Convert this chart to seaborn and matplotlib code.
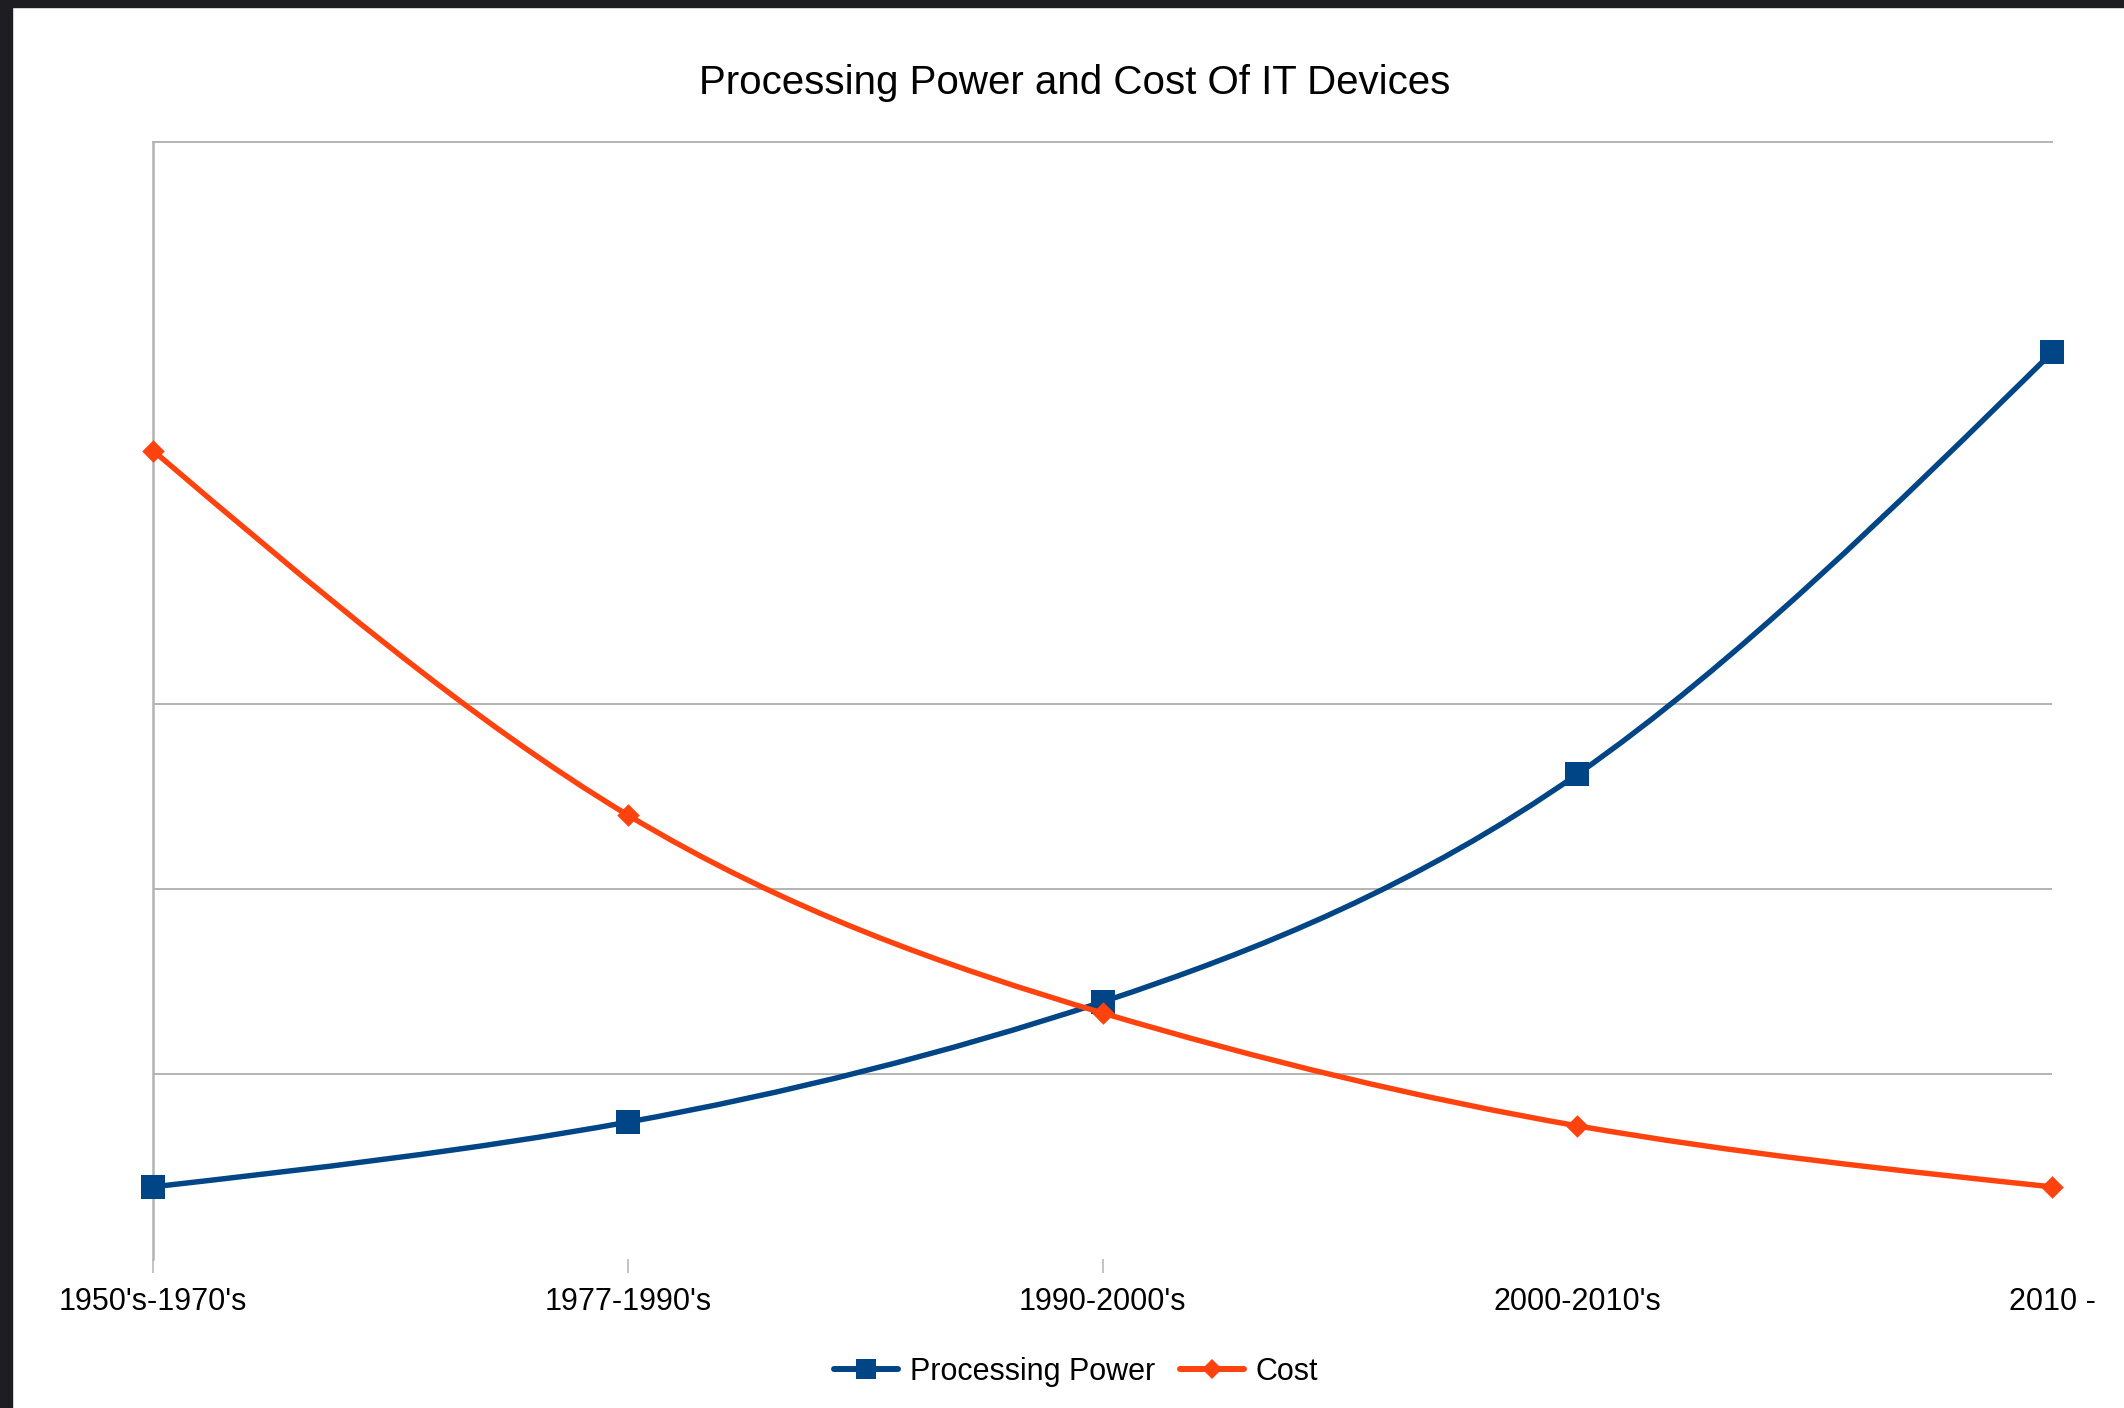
import numpy as np
import pandas as pd
import matplotlib
matplotlib.use('Agg')
import matplotlib.pyplot as plt
import seaborn as sns
from matplotlib.path import Path
from matplotlib.patches import PathPatch, Rectangle
from matplotlib.lines import Line2D

# ---------------- data ----------------
categories = ["1950's-1970's", "1977-1990's", "1990-2000's", "2000-2010's", "2010 -"]
processing_power = [0.39, 0.74, 1.39, 2.62, 4.90]
cost = [4.37, 2.40, 1.33, 0.72, 0.39]
series_names = ["Processing Power", "Cost"]
gridline_values = [1, 2, 3]
title = "Processing Power and Cost Of IT Devices"

BLUE = "#004586"
RED = "#ff420e"
GRID = "#b3b3b3"
TEXT = "#000000"

sns.set_theme(style="white")
plt.rcParams['font.family'] = ['Liberation Sans', 'DejaVu Sans']

W, H = 2124, 1408
fig = plt.figure(figsize=(W / 100, H / 100), dpi=100, facecolor='white')

# dark screenshot border (top and left)
fig.add_artist(Rectangle((0, 1 - 7 / H), 1, 7 / H, transform=fig.transFigure,
                         color='#1d1d22', zorder=0))
fig.add_artist(Rectangle((0, 0), 12 / W, 1, transform=fig.transFigure,
                         color='#1d1d22', zorder=0))

left, right, top, bottom = 153, 2052, 142, 1259
ax = fig.add_axes([left / W, 1 - bottom / H, (right - left) / W, (bottom - top) / H])
ax.set_facecolor('white')

x_pos = np.arange(len(categories))


def spline_path(xs, ys):
    """Natural cubic spline through the points, expressed as Bezier segments."""
    n = len(xs)
    y = np.asarray(ys, float)
    A = np.zeros((n, n))
    b = np.zeros(n)
    A[0, 0] = A[-1, -1] = 1
    for i in range(1, n - 1):
        A[i, i - 1] = 1
        A[i, i] = 4
        A[i, i + 1] = 1
        b[i] = 6 * (y[i + 1] - 2 * y[i] + y[i - 1])
    M = np.linalg.solve(A, b)
    m = np.empty(n)
    for i in range(n - 1):
        m[i] = (y[i + 1] - y[i]) - (2 * M[i] + M[i + 1]) / 6
    m[-1] = (y[-1] - y[-2]) + (M[-2] + 2 * M[-1]) / 6
    verts = [(xs[0], y[0])]
    codes = [Path.MOVETO]
    for i in range(n - 1):
        verts += [(xs[i] + 1 / 3, y[i] + m[i] / 3),
                  (xs[i + 1] - 1 / 3, y[i + 1] - m[i + 1] / 3),
                  (xs[i + 1], y[i + 1])]
        codes += [Path.CURVE4] * 3
    return Path(verts, codes)


LW = 3.9
# Processing power
ax.add_patch(PathPatch(spline_path(x_pos, processing_power), fill=False,
                       edgecolor=BLUE, lw=LW, capstyle='round', joinstyle='round',
                       zorder=2, clip_on=False))
sns.scatterplot(x=x_pos, y=processing_power, ax=ax, marker='s', s=17.5 ** 2,
                color=BLUE, linewidth=0, zorder=3, clip_on=False, legend=False)
# Cost
ax.add_patch(PathPatch(spline_path(x_pos, cost), fill=False,
                       edgecolor=RED, lw=LW, capstyle='round', joinstyle='round',
                       zorder=4, clip_on=False))
sns.scatterplot(x=x_pos, y=cost, ax=ax, marker='D', s=11.5 ** 2,
                color=RED, linewidth=0, zorder=5, clip_on=False, legend=False)

ax.set_xlim(0, len(categories) - 1)
ax.set_ylim(0, (bottom - top) / 185.0)

# grid
ax.set_yticks(gridline_values)
ax.set_yticklabels([])
ax.yaxis.grid(True, color=GRID, lw=1.4)
ax.xaxis.grid(False)
ax.tick_params(axis='y', left=False, length=0)

for side in ['right', 'bottom']:
    ax.spines[side].set_visible(False)
ax.spines['left'].set_color(GRID)
ax.spines['left'].set_linewidth(1.8)
ax.spines['top'].set_color(GRID)
ax.spines['top'].set_linewidth(1.4)

ax.set_xticks(x_pos)
ax.set_xticklabels(categories)
ax.tick_params(axis='x', bottom=True, direction='out', length=10, width=1.1,
               color=GRID, labelsize=22, labelcolor=TEXT, pad=10)
for t in ax.xaxis.get_major_ticks()[3:]:
    t.tick1line.set_visible(False)
ax.set_xlabel('')
ax.set_ylabel('')

fig.text(1075 / W, 1 - 83 / H, title, ha='center', va='center',
         fontsize=29, color=TEXT)

handles = [Line2D([], [], color=BLUE, lw=4.3, marker='s', ms=14, mew=0),
           Line2D([], [], color=RED, lw=4.3, marker='D', ms=10, mew=0)]
fig.legend(handles, series_names, loc='center',
           bbox_to_anchor=(1076 / W, 1 - 1372 / H), ncol=2, frameon=False,
           fontsize=22, handlelength=2.1, handletextpad=0.38,
           columnspacing=0.8, labelcolor=TEXT)

fig.savefig('out.png', dpi=100, facecolor='white')
